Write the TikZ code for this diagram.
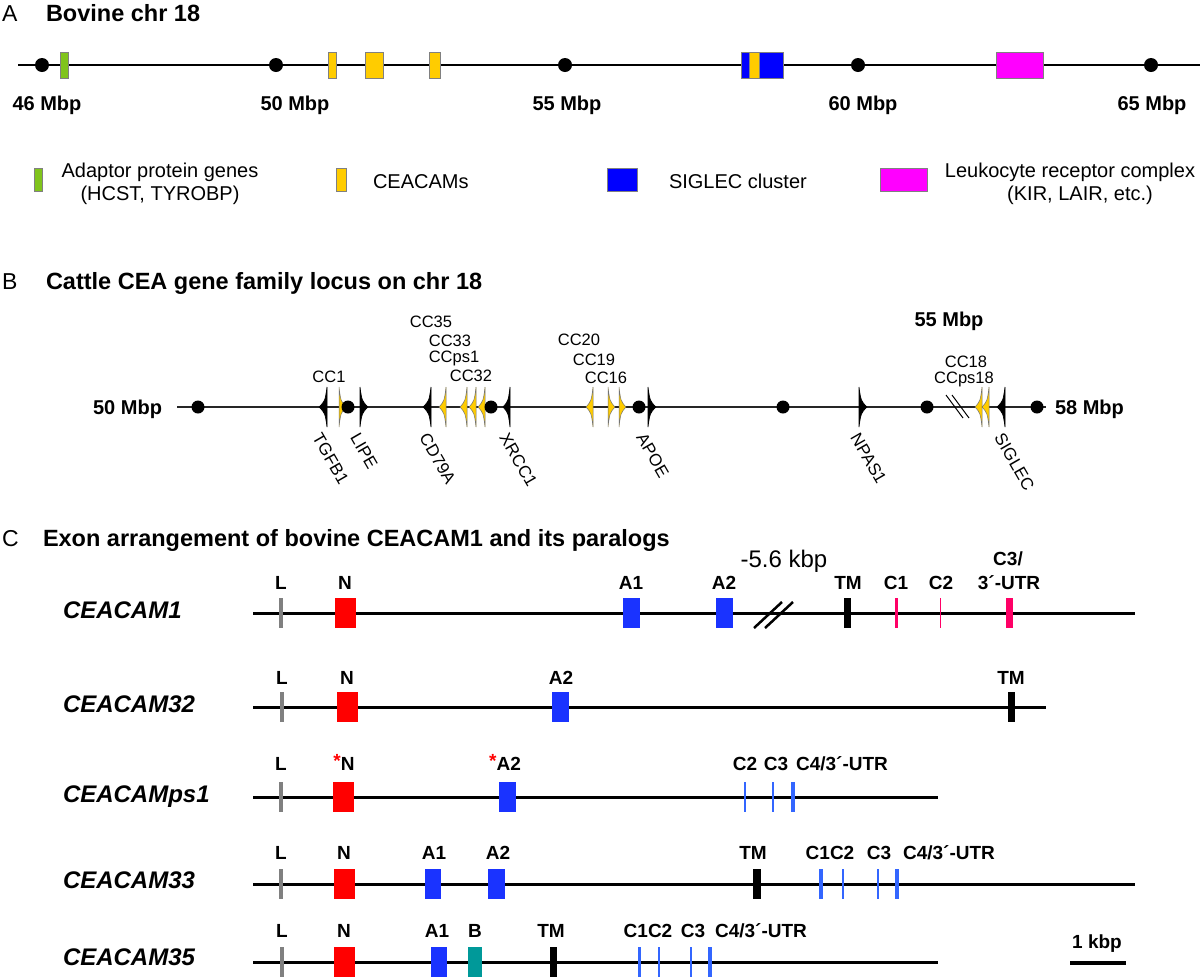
\documentclass[tikz,border=0pt]{standalone}
\usepackage{fontspec}
\setmainfont{Liberation Sans}
\definecolor{agreen}{HTML}{80C41C}
\definecolor{ayellow}{HTML}{FFCC00}
\definecolor{ablue}{HTML}{0000FF}
\definecolor{amag}{HTML}{FF00FF}
\definecolor{exred}{HTML}{FF0000}
\definecolor{exblue}{HTML}{1A33FF}
\definecolor{exlblue}{HTML}{3366FF}
\definecolor{expink}{HTML}{FF0066}
\definecolor{exteal}{HTML}{009999}
\definecolor{exgray}{HTML}{808080}
\newcommand\exon[4]{\fill[#4] (#1,#3-15) rectangle (#2,#3+15);}
\newcommand\gtri[3]{\filldraw[#3] (#1,387) .. controls (#1*0.75+#2*0.25,401) .. (#2,407) .. controls (#1*0.75+#2*0.25,413) .. (#1,427) -- cycle;}
\begin{document}
\begin{tikzpicture}[x=1pt,y=-1pt,
  every node/.style={inner sep=0pt,outer sep=0pt},
  ttl/.style={font=\bfseries\fontsize{23.5}{28}\selectfont},
  plet/.style={font=\fontsize{23}{28}\selectfont},
  mbp/.style={font=\bfseries\fontsize{20}{24}\selectfont},
  leg/.style={font=\fontsize{20}{24}\selectfont},
  glab/.style={font=\fontsize{16.5}{19}\selectfont},
  rlab/.style={font=\fontsize{17}{19}\selectfont,rotate=-60,anchor=west},
  gname/.style={font=\bfseries\itshape\fontsize{24}{28}\selectfont,anchor=base west},
  elab/.style={font=\bfseries\fontsize{19}{22}\selectfont,anchor=base},
  aline/.style={line width=2pt},
  bline/.style={line width=1.5pt,black!85},
  cline/.style={line width=3pt},
  adot/.style={circle,fill=black,minimum size=14pt},
  bdot/.style={circle,fill=black,minimum size=13pt},
  abox/.style={draw=gray,line width=0.8pt},
  blk/.style={fill=black,draw=black,line width=0.6pt},
  ylw/.style={fill=ayellow,draw=black!55,line width=0.5pt},
]
\useasboundingbox (0,0) rectangle (1200,978);

% ---------------- Panel A ----------------
\node[plet,anchor=base west] (la) at (2,21) {A};
\node[ttl,anchor=base west] (ta) at (46,21) {Bovine chr 18};
\draw[aline] (18,65) -- (1200,65);
\filldraw[abox,fill=agreen] (60,52) rectangle (68,78);
\filldraw[abox,fill=ayellow] (328,52) rectangle (336,78);
\filldraw[abox,fill=ayellow] (365,52) rectangle (383,78);
\filldraw[abox,fill=ayellow] (429,52) rectangle (440,78);
\filldraw[abox,fill=ablue] (741,52) rectangle (783,78);
\filldraw[abox,fill=ayellow] (749,52) rectangle (759,78);
\filldraw[abox,fill=amag] (996,52) rectangle (1043,78);
\node[adot] (d46) at (42,65) {};
\node[adot] (d50) at (276,65) {};
\node[adot] (d55) at (565,65) {};
\node[adot] (d60) at (858,65) {};
\node[adot] (d65) at (1151,65) {};
\node[mbp,anchor=base] (m46) at (47,110) {46 Mbp};
\node[mbp,anchor=base] (m50) at (295,110) {50 Mbp};
\node[mbp,anchor=base] (m55) at (567,110) {55 Mbp};
\node[mbp,anchor=base] (m60) at (863,110) {60 Mbp};
\node[mbp,anchor=base] (m65) at (1152,110) {65 Mbp};
% legend
\filldraw[abox,fill=agreen] (34,168) rectangle (42,191);
\node[leg,anchor=base] (lg1a) at (160,177) {Adaptor protein genes};
\node[leg,anchor=base] (lg1b) at (160,200) {(HCST, TYROBP)};
\filldraw[abox,fill=ayellow] (336,168) rectangle (346,191);
\node[leg,anchor=base west] (lg2) at (373,188) {CEACAMs};
\filldraw[abox,fill=ablue] (607,168) rectangle (637,191);
\node[leg,anchor=base west] (lg3) at (669,188) {SIGLEC cluster};
\filldraw[abox,fill=amag] (880,168) rectangle (927,191);
\node[leg,anchor=base] (lg4a) at (1070,177) {Leukocyte receptor complex};
\node[leg,anchor=base] (lg4b) at (1080,200) {(KIR, LAIR, etc.)};

% ---------------- Panel B ----------------
\node[plet,anchor=base west] (lb) at (2,289) {B};
\node[ttl,anchor=base west] (tb) at (46,289) {Cattle CEA gene family locus on chr 18};
\draw[bline] (177,407) -- (1046,407);
\node[mbp,anchor=base east] (m50b) at (162,414) {50 Mbp};
\node[mbp,anchor=base west] (m58b) at (1055,414) {58 Mbp};
\node[mbp,anchor=base] (m55b) at (949,326) {55 Mbp};
% genes
\gtri{327}{319}{blk}
\gtri{339}{346}{ylw}
\gtri{360}{368}{blk}
\gtri{431}{423}{blk}
\gtri{446}{439}{ylw}
\gtri{467}{460}{ylw}
\gtri{476}{469}{ylw}
\gtri{485}{478}{ylw}
\gtri{510}{503}{blk}
\gtri{593}{586}{ylw}
\gtri{608}{615}{ylw}
\gtri{619}{626}{ylw}
\gtri{648}{656}{blk}
\gtri{859}{867}{blk}
\gtri{982}{975}{ylw}
\gtri{989}{982}{ylw}
\gtri{1005}{997}{blk}
\draw[line width=1pt] (946,395) -- (963,418);
\draw[line width=1pt] (952,395) -- (969,418);
\node[bdot] (b1) at (198,407) {};
\node[bdot] (b2) at (348,407) {};
\node[bdot] (b3) at (491,407) {};
\node[bdot] (b4) at (639,407) {};
\node[bdot] (b5) at (783,407) {};
\node[bdot] (b6) at (927,407) {};
\node[bdot] (b7) at (1037,407) {};
% labels above
\node[glab,anchor=base] (cc1) at (329,382) {CC1};
\node[glab,anchor=base] (cc35) at (431,327) {CC35};
\node[glab,anchor=base] (cc33) at (450,346) {CC33};
\node[glab,anchor=base] (ccps1) at (454,362) {CCps1};
\node[glab,anchor=base] (cc32) at (471,381) {CC32};
\node[glab,anchor=base] (cc20) at (579,345) {CC20};
\node[glab,anchor=base] (cc19) at (594,365) {CC19};
\node[glab,anchor=base] (cc16) at (606,383) {CC16};
\node[glab,anchor=base] (cc18) at (966,367) {CC18};
\node[glab,anchor=base] (ccps18) at (964,383) {CCps18};
% rotated labels
\node[rlab] (tgfb1) at (317,435) {TGFB1};
\node[rlab] (lipe) at (355,435) {LIPE};
\node[rlab] (cd79a) at (424,435) {CD79A};
\node[rlab] (xrcc1) at (504,435) {XRCC1};
\node[rlab] (apoe) at (641,435) {APOE};
\node[rlab] (npas1) at (855,435) {NPAS1};
\node[rlab] (siglec) at (999,435) {SIGLEC};

% ---------------- Panel C ----------------
\node[plet,anchor=base west] (lc) at (2,546) {C};
\node[ttl,anchor=base west] (tc) at (43,546) {Exon arrangement of bovine CEACAM1 and its paralogs};

% CEACAM1
\node[gname] (g1) at (63,618) {CEACAM1};
\draw[cline] (253,613) -- (1135,613);
\exon{279}{283}{613}{exgray}
\exon{335}{356}{613}{exred}
\exon{623}{640}{613}{exblue}
\exon{716}{733}{613}{exblue}
\draw[line width=2.5pt] (754,628) -- (782,602);
\draw[line width=2.5pt] (765,628) -- (793,602);
\exon{844}{851}{613}{black}
\exon{895}{898}{613}{expink}
\exon{939.5}{940.8}{613}{expink}
\exon{1006}{1013}{613}{expink}
\node[elab] (e1l) at (281,589) {L};
\node[elab] (e1n) at (345,589) {N};
\node[elab] (e1a1) at (631,589) {A1};
\node[elab] (e1a2) at (724,589) {A2};
\node[elab] (e1tm) at (848,589) {TM};
\node[elab] (e1c1) at (896,589) {C1};
\node[elab] (e1c2) at (941,589) {C2};
\node[elab] (e1c3a) at (1008,565) {C3/};
\node[elab] (e1c3b) at (1009,589) {3´-UTR};
\node[font=\fontsize{24}{28}\selectfont,anchor=base] (kb56) at (784,567) {-5.6 kbp};

% CEACAM32
\node[gname] (g32) at (63,712) {CEACAM32};
\draw[cline] (253,707) -- (1046,707);
\exon{280}{284}{707}{exgray}
\exon{337}{358}{707}{exred}
\exon{552}{569}{707}{exblue}
\exon{1008}{1015}{707}{black}
\node[elab] (e2l) at (282,684) {L};
\node[elab] (e2n) at (347,684) {N};
\node[elab] (e2a2) at (561,684) {A2};
\node[elab] (e2tm) at (1011,684) {TM};

% CEACAMps1
\node[gname] (gps1) at (63,802) {CEACAMps1};
\draw[cline] (253,797) -- (938,797);
\exon{279}{283}{797}{exgray}
\exon{333}{354}{797}{exred}
\exon{499}{516}{797}{exblue}
\exon{744.3}{745.7}{797}{exlblue}
\exon{772.3}{773.7}{797}{exlblue}
\exon{791}{795}{797}{exlblue}
\node[elab] (e3l) at (281,770) {L};
\node[elab] (e3n) at (344,770) {\raisebox{3pt}{\color{red}*}N};
\node[elab] (e3a2) at (505,770) {\raisebox{3pt}{\color{red}*}A2};
\node[elab] (e3c2) at (745,770) {C2};
\node[elab] (e3c3) at (776,770) {C3};
\node[elab] (e3c4) at (842,770) {C4/3´-UTR};

% CEACAM33
\node[gname] (g33) at (63,888) {CEACAM33};
\draw[cline] (253,884) -- (1135,884);
\exon{279}{283}{884}{exgray}
\exon{334}{355}{884}{exred}
\exon{425}{441}{884}{exblue}
\exon{488}{505}{884}{exblue}
\exon{753}{761}{884}{black}
\exon{819}{823}{884}{exlblue}
\exon{842.3}{843.7}{884}{exlblue}
\exon{877.3}{878.7}{884}{exlblue}
\exon{895}{899}{884}{exlblue}
\node[elab] (e4l) at (281,859) {L};
\node[elab] (e4n) at (344,859) {N};
\node[elab] (e4a1) at (434,859) {A1};
\node[elab] (e4a2) at (498,859) {A2};
\node[elab] (e4tm) at (753,859) {TM};
\node[elab] (e4c12) at (830,859) {C1C2};
\node[elab] (e4c3) at (879,859) {C3};
\node[elab] (e4c4) at (949,859) {C4/3´-UTR};

% CEACAM35
\node[gname] (g35) at (63,965) {CEACAM35};
\draw[cline] (253,962) -- (938,962);
\exon{280}{284}{962}{exgray}
\exon{334}{355}{962}{exred}
\exon{431}{447}{962}{exblue}
\exon{468}{482}{962}{exteal}
\exon{550}{557}{962}{black}
\exon{638}{641}{962}{exlblue}
\exon{658.3}{659.7}{962}{exlblue}
\exon{690.3}{691.7}{962}{exlblue}
\exon{708}{712}{962}{exlblue}
\node[elab] (e5l) at (282,937) {L};
\node[elab] (e5n) at (344,937) {N};
\node[elab] (e5a1) at (437,937) {A1};
\node[elab] (e5b) at (475,937) {B};
\node[elab] (e5tm) at (551,937) {TM};
\node[elab] (e5c12) at (648,937) {C1C2};
\node[elab] (e5c3) at (693,937) {C3};
\node[elab] (e5c4) at (761,937) {C4/3´-UTR};

% scale bar
\coordinate (sb1) at (1070,963);
\coordinate (sb2) at (1126,963);
\draw[line width=3.5pt] (sb1) -- (sb2);
\node[elab] (kbp) at (1097,948) {1 kbp};
\end{tikzpicture}
\end{document}
